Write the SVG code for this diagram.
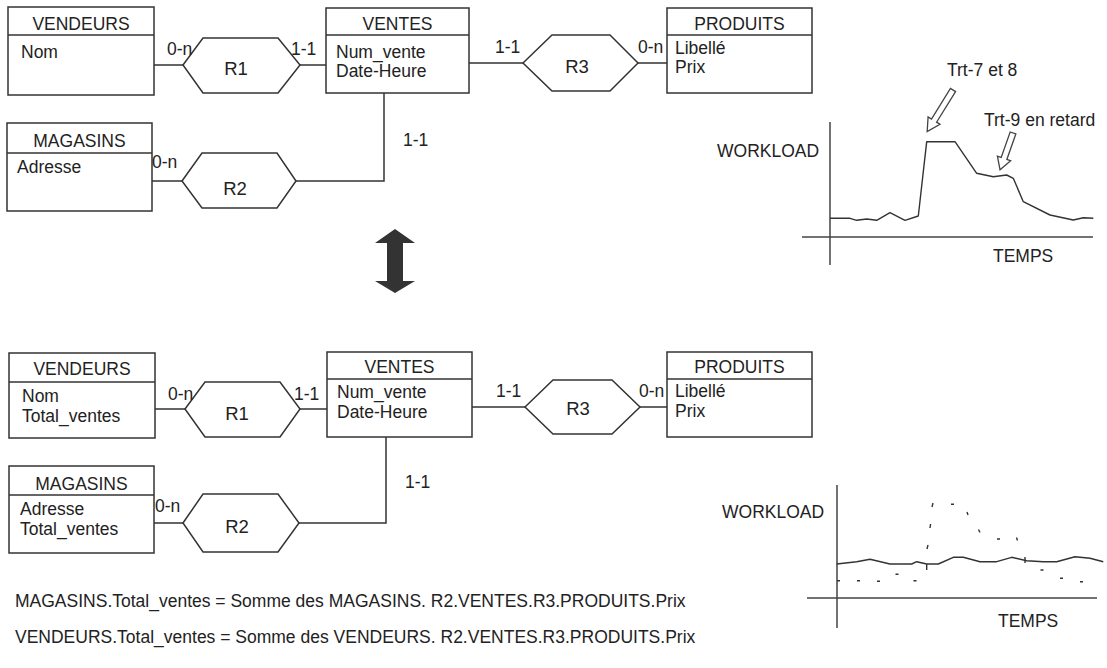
<svg xmlns="http://www.w3.org/2000/svg" width="1107" height="668" viewBox="0 0 1107 668">
<style>
text{font-family:"Liberation Sans",Arial,sans-serif;font-size:17.5px;fill:#222}
.c{text-anchor:middle}
.r{font-size:18.5px}
.box{fill:#fff;stroke:#333;stroke-width:1.5}
.ln{fill:none;stroke:#333;stroke-width:1.5}
.hex{fill:#fff;stroke:#333;stroke-width:1.5}
.ax{fill:none;stroke:#444;stroke-width:1.5}
.cv{fill:none;stroke:#333;stroke-width:1.4;stroke-linejoin:round}
.ar{fill:#fff;stroke:#444;stroke-width:1.3}
</style>
<rect width="1107" height="668" fill="#fff"/>

<g id="connectors">
  <path class="ln" d="M154,65H183M300,65H326M469,63H523M638,63H667M384,93V181H296M152,181H182"/>
  <path class="ln" d="M155,409H185M300,409H327M472,407H525M640,407H667M386,437V523H299M154,523H183"/>
</g>

<!-- TOP ER -->
<g id="t-vendeurs">
  <rect class="box" x="8" y="7" width="146" height="88"/>
  <path class="ln" d="M8,35H154"/>
  <text class="c" x="81" y="30">VENDEURS</text>
  <text x="21" y="58">Nom</text>
</g>
<g id="t-ventes">
  <rect class="box" x="326" y="8" width="143" height="85"/>
  <path class="ln" d="M326,35H469"/>
  <text class="c" x="397.5" y="30">VENTES</text>
  <text x="336" y="58">Num_vente</text>
  <text x="336" y="77">Date-Heure</text>
</g>
<g id="t-produits">
  <rect class="box" x="667" y="8" width="145" height="85"/>
  <path class="ln" d="M667,35H812"/>
  <text class="c" x="739.5" y="30">PRODUITS</text>
  <text x="675" y="54">Libellé</text>
  <text x="675" y="73">Prix</text>
</g>
<g id="t-magasins">
  <rect class="box" x="7" y="123" width="145" height="88"/>
  <path class="ln" d="M7,153H152"/>
  <text class="c" x="79.5" y="147">MAGASINS</text>
  <text x="17" y="173">Adresse</text>
</g>
<g id="t-r1">
  <polygon class="hex" points="183,65 203,38 278,38 300,65 278,93 203,93"/>
  <text class="c r" x="236" y="75">R1</text>
  <text x="167" y="55">0-n</text>
  <text x="291" y="55">1-1</text>
</g>
<g id="t-r3">
  <polygon class="hex" points="523,63 552,35 610,35 638,63 610,91 552,91"/>
  <text class="c r" x="577" y="73">R3</text>
  <text x="495" y="53">1-1</text>
  <text x="638" y="53">0-n</text>
</g>
<g id="t-r2">
  <polygon class="hex" points="182,181 202,153 277,153 296,181 277,208 202,208"/>
  <text class="c r" x="235" y="195">R2</text>
  <text x="152" y="168">0-n</text>
  <text x="403" y="146">1-1</text>
</g>

<!-- TOP GRAPH -->
<g id="t-graph">
  <path class="ax" d="M830,122V265M802,237H1093"/>
  <polyline class="cv" points="830,218.3 850,218.3 856.7,220.3 866.7,219 876.7,220.3 890,212.7 905,220.3 918.3,216 926.7,141.7 955,141.7 976.7,173.3 993.3,176.7 1006.7,175 1013.3,178.3 1023.3,201.7 1050,215 1073.3,220 1083.3,217.7 1093.3,218.3"/>
  <text x="717" y="157">WORKLOAD</text>
  <text x="993" y="262">TEMPS</text>
  <text x="947" y="76">Trt-7 et 8</text>
  <text x="984" y="126">Trt-9 en retard</text>
  <polygon class="ar" transform="translate(953,90) rotate(121.8)" points="0,-3 36,-3 36,-7 49,0 36,7 36,3 0,3"/>
  <polygon class="ar" transform="translate(1013,133) rotate(109.4)" points="0,-3 27,-3 27,-7 39,0 27,7 27,3 0,3"/>
</g>

<!-- DOUBLE ARROW -->
<g id="double-arrow">
  <polygon fill="#333" points="395,229 415,243 403,243 403,281 415,281 395,293 375,281 387,281 387,243 375,243"/>
</g>

<!-- BOTTOM ER -->
<g id="b-vendeurs">
  <rect class="box" x="9" y="353" width="146" height="85"/>
  <path class="ln" d="M9,382H155"/>
  <text class="c" x="82" y="375">VENDEURS</text>
  <text x="22" y="402">Nom</text>
  <text x="22" y="422">Total_ventes</text>
</g>
<g id="b-ventes">
  <rect class="box" x="327" y="352" width="145" height="85"/>
  <path class="ln" d="M327,379H472"/>
  <text class="c" x="399.5" y="373">VENTES</text>
  <text x="337" y="398">Num_vente</text>
  <text x="337" y="418">Date-Heure</text>
</g>
<g id="b-produits">
  <rect class="box" x="667" y="352" width="145" height="85"/>
  <path class="ln" d="M667,379H812"/>
  <text class="c" x="739.5" y="373">PRODUITS</text>
  <text x="675" y="397">Libellé</text>
  <text x="675" y="417">Prix</text>
</g>
<g id="b-magasins">
  <rect class="box" x="9" y="466" width="145" height="87"/>
  <path class="ln" d="M9,495H154"/>
  <text class="c" x="81.5" y="490">MAGASINS</text>
  <text x="20" y="515">Adresse</text>
  <text x="20" y="535">Total_ventes</text>
</g>
<g id="b-r1">
  <polygon class="hex" points="185,409 205,382 280,382 300,409 280,437 205,437"/>
  <text class="c r" x="237" y="420">R1</text>
  <text x="168" y="400">0-n</text>
  <text x="294" y="400">1-1</text>
</g>
<g id="b-r3">
  <polygon class="hex" points="525,407 553,380 612,380 640,407 612,434 553,434"/>
  <text class="c r" x="578" y="415">R3</text>
  <text x="496" y="397">1-1</text>
  <text x="639" y="397">0-n</text>
</g>
<g id="b-r2">
  <polygon class="hex" points="183,523 203,494 278,494 299,523 278,552 203,552"/>
  <text class="c r" x="237" y="533">R2</text>
  <text x="155" y="512">0-n</text>
  <text x="405" y="488">1-1</text>
</g>

<!-- BOTTOM GRAPH -->
<g id="b-graph">
  <path class="ax" d="M837,485V628M807,598H1097"/>
  <polyline class="cv" points="836.7,564 856.7,561.7 870,559.3 890,564 911.7,564 916.7,561.7 926.7,564 938.3,564 953.3,557.3 963.3,557.3 980,561.7 996.7,561.7 1011.7,557.3 1026.7,560.7 1043.3,561.7 1056.7,561.7 1075,556.7 1090,558.3 1103.3,561.7"/>
  <path class="cv" d="M926.7,564V570M1025,557V563"/>
  <path class="cv" stroke-width="1.2" d="M837,580.7h3M857,580.7h3M877,581.3h3M895.5,574.3h3M913.5,580.7h3M927,549l1,-4M930,528l0.6,-4M932,507l1,-4M951,504.3h3M967,512l1,3M978.5,529.5l1.5,3M997,539h3M1016.5,537.5l1,3M1040.5,570h3M1060,578.3h3M1080,581.7h3"/>
  <text x="722" y="518">WORKLOAD</text>
  <text x="998" y="627">TEMPS</text>
</g>

<g id="formulas">
  <text x="15" y="607">MAGASINS.Total_ventes = Somme des MAGASINS. R2.VENTES.R3.PRODUITS.Prix</text>
  <text x="15" y="643">VENDEURS.Total_ventes = Somme des VENDEURS. R2.VENTES.R3.PRODUITS.Prix</text>
</g>
</svg>
